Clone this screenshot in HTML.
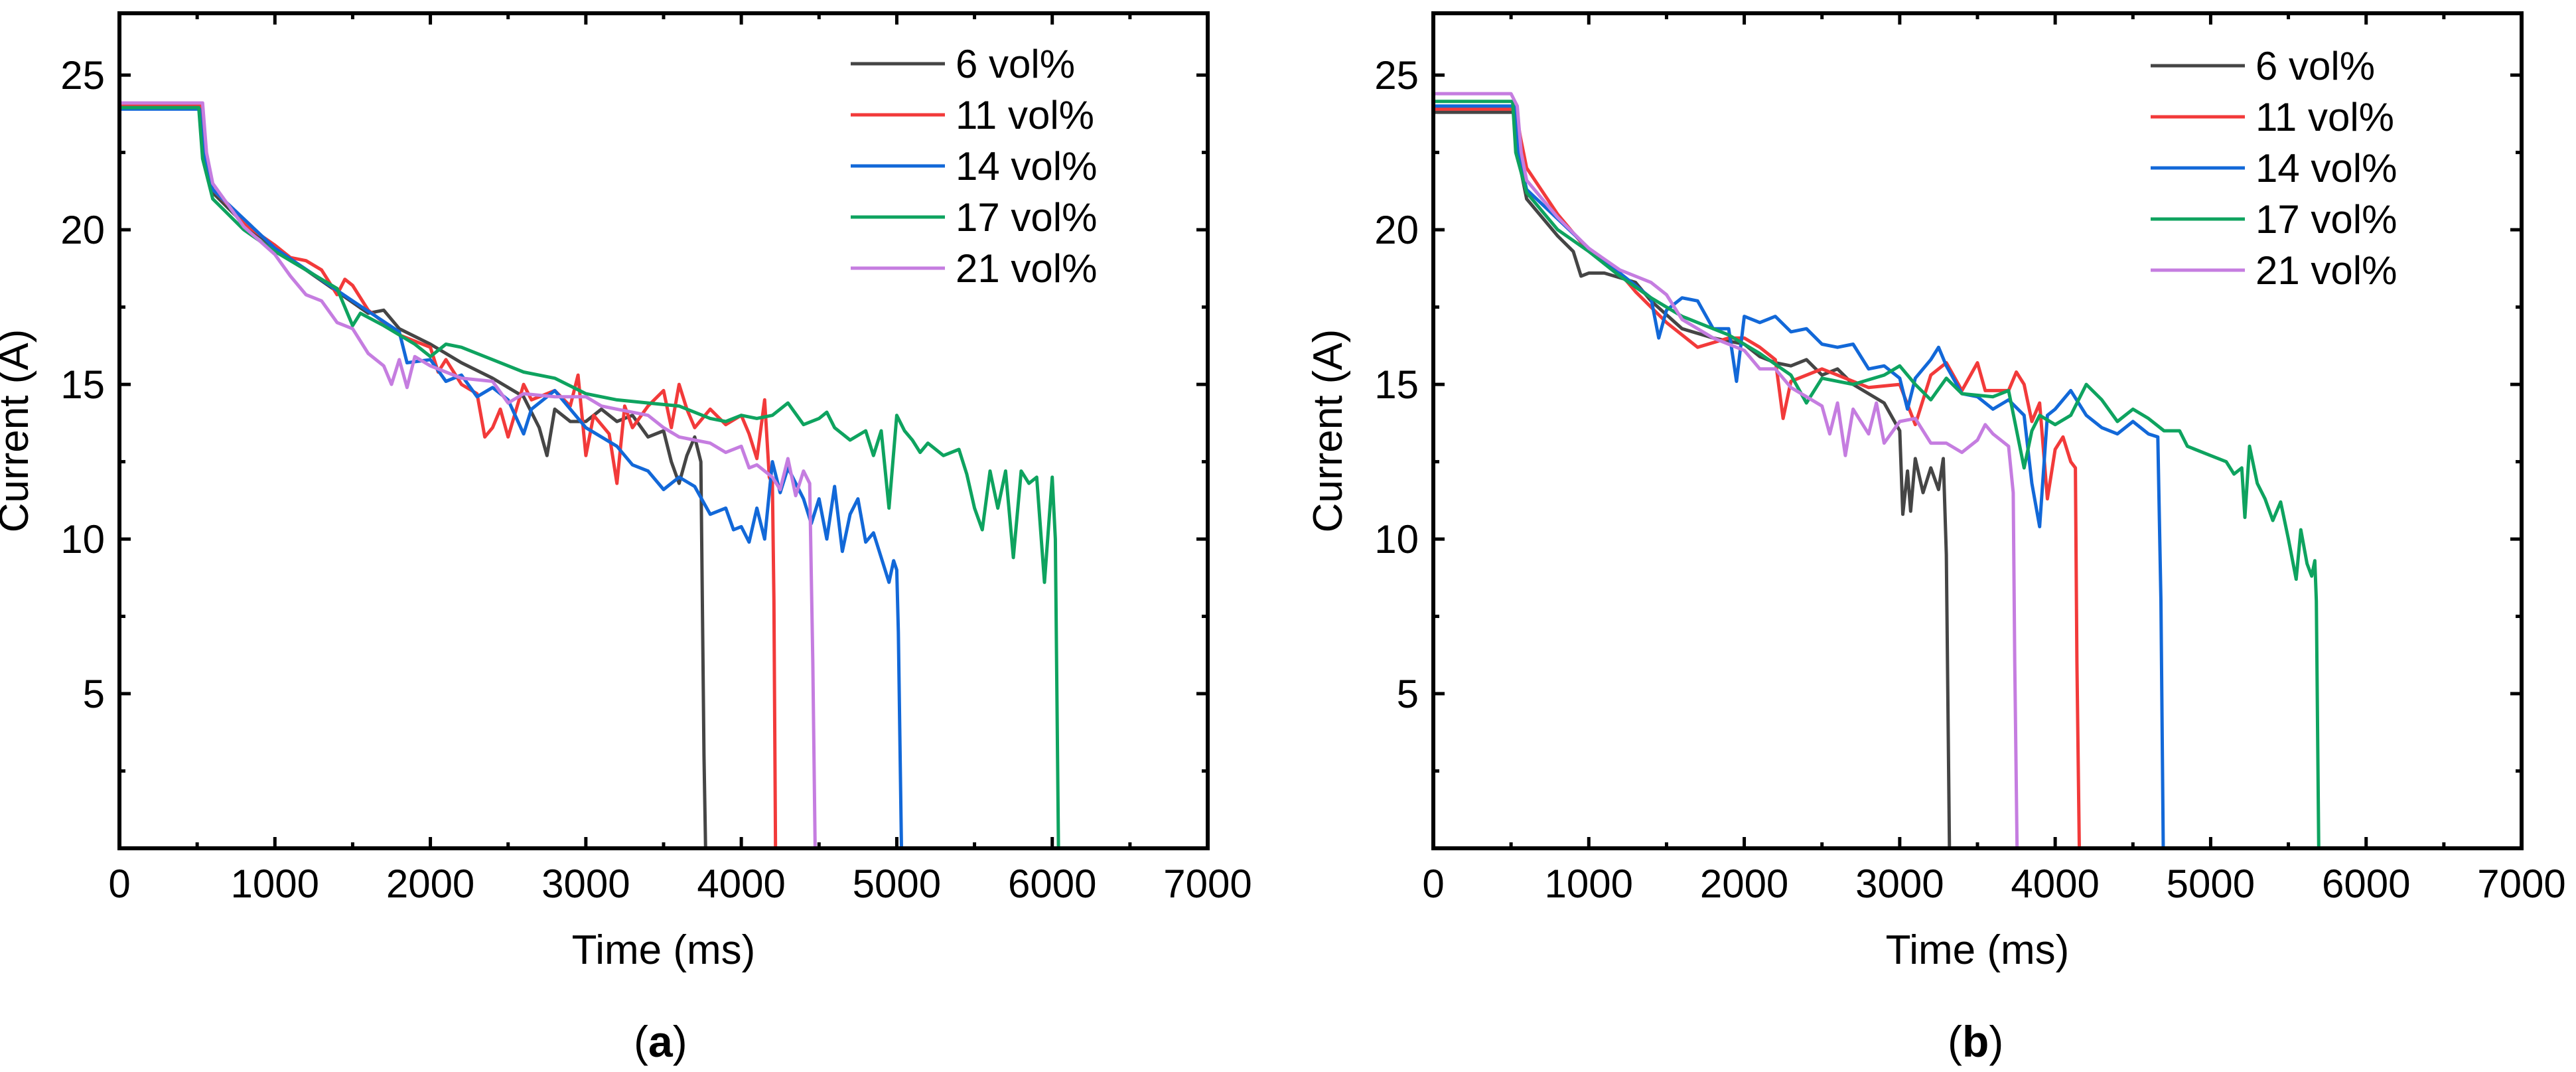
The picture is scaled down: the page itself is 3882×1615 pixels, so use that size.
<!DOCTYPE html>
<html><head><meta charset="utf-8"><style>
html,body{margin:0;padding:0;background:#fff;}
svg{display:block;}
text{font-family:"Liberation Sans",sans-serif;fill:#000;}
</style></head><body>
<svg id="fig" width="3882" height="1615" viewBox="0 0 3882 1615" xmlns="http://www.w3.org/2000/svg"></svg>
<script>
const seriesNames = ["6 vol%","11 vol%","14 vol%","17 vol%","21 vol%"];
const seriesColors = ["#454545","#f23a3a","#1268d8","#0ea35f","#c57de0"];
const xTicks = [0,1000,2000,3000,4000,5000,6000,7000];
const yTicks = [5,10,15,20,25];

const a_black = [[0,23.95],[515,23.95],[540,22.5],[600,21.2],[800,20.2],[1000,19.4],[1200,18.7],[1400,18.0],[1600,17.3],[1700,17.4],[1800,16.8],[2000,16.3],[2200,15.7],[2400,15.2],[2600,14.6],[2700,13.6],[2750,12.7],[2800,14.2],[2900,13.8],[3000,13.8],[3100,14.2],[3200,13.8],[3300,14.0],[3400,13.3],[3500,13.5],[3550,12.5],[3600,11.8],[3650,12.7],[3700,13.3],[3740,12.5],[3760,3],[3770,0]];
const a_red = [[0,24.0],[520,24.0],[545,22.5],[600,21.3],[700,20.8],[800,20.2],[1000,19.5],[1100,19.1],[1200,19.0],[1300,18.7],[1400,17.9],[1450,18.4],[1500,18.2],[1600,17.4],[1800,16.6],[2000,16.2],[2050,15.4],[2100,15.8],[2200,15.0],[2300,14.7],[2350,13.3],[2400,13.6],[2450,14.2],[2500,13.3],[2600,15.0],[2650,14.5],[2800,14.8],[2900,14.3],[2950,15.3],[3000,12.7],[3050,14.0],[3150,13.4],[3200,11.8],[3250,14.3],[3300,13.6],[3400,14.3],[3500,14.8],[3550,13.6],[3600,15.0],[3650,14.2],[3700,13.6],[3800,14.2],[3900,13.7],[4000,14.0],[4050,13.4],[4100,12.6],[4150,14.5],[4180,12.0],[4200,11.8],[4210,8],[4220,0]];
const a_blue = [[0,23.9],[515,23.9],[540,22.5],[600,21.3],[1000,19.4],[1500,17.7],[1800,16.7],[1850,15.7],[2000,15.8],[2100,15.1],[2200,15.3],[2300,14.6],[2400,14.9],[2500,14.5],[2600,13.4],[2650,14.2],[2800,14.8],[3000,13.6],[3200,13.0],[3300,12.4],[3400,12.2],[3500,11.6],[3600,12.0],[3700,11.7],[3800,10.8],[3900,11.0],[3950,10.3],[4000,10.4],[4050,9.9],[4100,11.0],[4150,10.0],[4200,12.5],[4250,11.5],[4300,12.3],[4400,11.3],[4450,10.5],[4500,11.3],[4550,10.0],[4600,11.7],[4650,9.6],[4700,10.8],[4750,11.3],[4800,9.9],[4850,10.2],[4900,9.4],[4950,8.6],[4980,9.3],[5000,9.0],[5010,7],[5030,0]];
const a_green = [[0,23.95],[510,23.95],[535,22.3],[600,21.0],[800,20.0],[1000,19.3],[1200,18.7],[1400,18.1],[1500,16.9],[1550,17.3],[1700,16.9],[1900,16.3],[2000,15.9],[2100,16.3],[2200,16.2],[2400,15.8],[2600,15.4],[2800,15.2],[3000,14.7],[3200,14.5],[3400,14.4],[3600,14.3],[3800,13.9],[3900,13.8],[4000,14.0],[4100,13.9],[4200,14.0],[4300,14.4],[4400,13.7],[4500,13.9],[4550,14.1],[4600,13.6],[4700,13.2],[4800,13.5],[4850,12.7],[4900,13.5],[4950,11.0],[5000,14.0],[5050,13.5],[5100,13.2],[5150,12.8],[5200,13.1],[5300,12.7],[5400,12.9],[5450,12.1],[5500,11.0],[5550,10.3],[5600,12.2],[5650,11.0],[5700,12.2],[5750,9.4],[5800,12.2],[5850,11.8],[5900,12.0],[5950,8.6],[6000,12.0],[6020,10],[6040,0]];
const a_purple = [[0,24.1],[535,24.1],[560,22.5],[600,21.5],[800,20.1],[1000,19.2],[1100,18.5],[1200,17.9],[1300,17.7],[1400,17.0],[1500,16.8],[1600,16.0],[1700,15.6],[1750,15.0],[1800,15.8],[1850,14.9],[1900,15.9],[2000,15.6],[2100,15.4],[2200,15.2],[2400,15.1],[2500,14.4],[2600,14.7],[2800,14.6],[3000,14.6],[3100,14.3],[3200,14.2],[3400,14.0],[3500,13.6],[3600,13.3],[3700,13.2],[3800,13.1],[3900,12.8],[4000,13.0],[4050,12.3],[4100,12.4],[4200,12.0],[4250,11.6],[4300,12.6],[4350,11.4],[4400,12.2],[4440,11.8],[4460,6],[4475,0]];

const b_black = [[0,23.8],[515,23.8],[540,22.5],[600,21.0],[800,19.8],[900,19.3],[950,18.5],[1000,18.6],[1100,18.6],[1300,18.3],[1400,17.7],[1600,16.8],[1800,16.5],[2000,16.3],[2100,15.9],[2200,15.7],[2300,15.6],[2400,15.8],[2500,15.3],[2600,15.5],[2700,15.0],[2800,14.7],[2900,14.4],[3000,13.5],[3020,10.8],[3050,12.2],[3070,10.9],[3100,12.6],[3150,11.5],[3200,12.3],[3250,11.6],[3280,12.6],[3300,9.5],[3320,0]];
const b_red = [[0,23.9],[530,23.9],[560,23.0],[600,22.0],[800,20.5],[1000,19.3],[1200,18.6],[1300,18.0],[1500,17.0],[1700,16.2],[1900,16.5],[2000,16.5],[2100,16.2],[2200,15.8],[2250,13.9],[2300,15.1],[2500,15.5],[2600,15.3],[2800,14.9],[3000,15.0],[3100,13.7],[3200,15.3],[3300,15.7],[3400,14.8],[3500,15.7],[3550,14.8],[3700,14.8],[3750,15.4],[3800,15.0],[3850,13.8],[3900,14.4],[3950,11.3],[4000,12.9],[4050,13.3],[4100,12.5],[4130,12.3],[4140,6],[4155,0]];
const b_blue = [[0,24.0],[520,24.0],[545,22.5],[600,21.3],[1000,19.4],[1200,18.6],[1400,17.8],[1450,16.5],[1500,17.4],[1600,17.8],[1700,17.7],[1800,16.8],[1900,16.8],[1950,15.1],[2000,17.2],[2100,17.0],[2200,17.2],[2300,16.7],[2400,16.8],[2500,16.3],[2600,16.2],[2700,16.3],[2800,15.5],[2900,15.6],[3000,15.2],[3050,14.2],[3100,15.2],[3200,15.8],[3250,16.2],[3300,15.6],[3400,14.7],[3500,14.6],[3600,14.2],[3700,14.5],[3800,14.0],[3850,11.8],[3900,10.4],[3950,14.0],[4000,14.2],[4100,14.8],[4200,14.0],[4300,13.6],[4400,13.4],[4500,13.8],[4600,13.4],[4660,13.3],[4680,8],[4695,0]];
const b_green = [[0,24.15],[510,24.15],[530,22.5],[600,21.2],[800,20.0],[1000,19.3],[1200,18.5],[1400,17.8],[1600,17.2],[1700,17.0],[1900,16.6],[2100,16.0],[2300,15.3],[2400,14.4],[2500,15.2],[2700,15.0],[2900,15.3],[3000,15.6],[3100,15.0],[3200,14.5],[3300,15.2],[3400,14.7],[3600,14.6],[3700,14.8],[3800,12.3],[3850,13.5],[3900,14.0],[4000,13.7],[4100,14.0],[4200,15.0],[4300,14.5],[4400,13.8],[4500,14.2],[4600,13.9],[4700,13.5],[4800,13.5],[4850,13.0],[4900,12.9],[5000,12.7],[5100,12.5],[5150,12.1],[5200,12.3],[5220,10.7],[5250,13.0],[5300,11.8],[5350,11.3],[5400,10.6],[5450,11.2],[5500,10.0],[5550,8.7],[5580,10.3],[5620,9.2],[5650,8.8],[5670,9.3],[5680,8],[5695,0]];
const b_purple = [[0,24.4],[500,24.4],[540,24.0],[565,22.5],[600,21.6],[800,20.4],[1000,19.4],[1200,18.7],[1400,18.3],[1500,17.9],[1600,17.1],[1800,16.5],[2000,16.1],[2100,15.5],[2200,15.5],[2300,14.9],[2400,14.6],[2500,14.3],[2550,13.4],[2600,14.4],[2650,12.7],[2700,14.2],[2800,13.4],[2850,14.4],[2900,13.1],[3000,13.8],[3100,13.9],[3200,13.1],[3300,13.1],[3400,12.8],[3500,13.2],[3550,13.7],[3600,13.4],[3700,13.0],[3730,11.5],[3740,6],[3755,0]];

const NS = "http://www.w3.org/2000/svg";
const svg = document.getElementById("fig");
function mk(tag, attrs, parent){const e=document.createElementNS(NS,tag);for(const k in attrs)e.setAttribute(k,attrs[k]);(parent||svg).appendChild(e);return e;}

function panel(id, x0, x1, yTop, yBot, series, legX, legY, capLetter){
  const g = mk("g",{});
  
  
  const sx = v => x0 + (v/7000)*(x1-x0);
  const sy = v => yBot - (v/27)*(yBot-yTop);
  // series
  series.forEach((s,i)=>{
    const d = s.map((p,j)=>(j?"L":"M")+sx(p[0]).toFixed(1)+","+sy(p[1]).toFixed(1)).join(" ");
    const path = mk("path",{d:d,fill:"none",stroke:seriesColors[i],"stroke-width":5,"stroke-linejoin":"round"},g);
    
    
  });
  // ticks
  const tg = mk("g",{stroke:"#000","stroke-width":5},g);
  for(let v=0; v<=7000; v+=500){
    const X=sx(v), L=(v%1000===0)?17:9;
    mk("line",{x1:X,y1:yBot,x2:X,y2:yBot-L},tg);
    mk("line",{x1:X,y1:yTop,x2:X,y2:yTop+L},tg);
  }
  for(let v=2.5; v<27; v+=2.5){
    const Y=sy(v), L=(Math.abs(v%5)<0.01)?17:9;
    mk("line",{x1:x0,y1:Y,x2:x0+L,y2:Y},tg);
    mk("line",{x1:x1,y1:Y,x2:x1-L,y2:Y},tg);
  }
  const frame = mk("rect",{x:x0,y:yTop,width:x1-x0,height:yBot-yTop,fill:"none",stroke:"#000","stroke-width":6},g);
  
  
  xTicks.forEach(v=>{
    const t = mk("text",{x:sx(v),y:yBot+74,"font-size":60,"text-anchor":"middle"},g);
    t.textContent = v;
    
    
  });
  yTicks.forEach(v=>{
    const t = mk("text",{x:x0-22,y:sy(v)+21,"font-size":60,"text-anchor":"end"},g);
    t.textContent = v;
    
    
  });
  const xt = mk("text",{x:(x0+x1)/2,y:1452,"font-size":62,"text-anchor":"middle"},g);
  xt.textContent = "Time (ms)";
  
  
  const yc = (yTop+yBot)/2, ytx = x0-138;
  const yt = mk("text",{x:ytx,y:yc,"font-size":62,"text-anchor":"middle",transform:"rotate(-90 "+ytx+" "+yc+")"},g);
  yt.textContent = "Current (A)";
  
  
  // legend
  seriesNames.forEach((n,i)=>{
    const lg = mk("g",{},g);
    
    
    const Y = legY + i*77;
    mk("line",{x1:legX,y1:Y,x2:legX+142,y2:Y,stroke:seriesColors[i],"stroke-width":5},lg);
    const t = mk("text",{x:legX+158,y:Y+21,"font-size":60},lg);
    t.textContent = n;
  });
  const cap = mk("text",{x:(x0+x1)/2-45,y:1592,"font-size":66,"font-family":"Liberation Serif, serif"},g);
  
  
  const p1 = mk("tspan",{},cap); p1.textContent="(";
  const p2 = mk("tspan",{"font-weight":"bold"},cap); p2.textContent=capLetter;
  const p3 = mk("tspan",{},cap); p3.textContent=")";
}
panel("a",180,1820,20,1278,[a_black,a_red,a_blue,a_green,a_purple],1282,96,"a");
panel("b",2160,3800,20,1278,[b_black,b_red,b_blue,b_green,b_purple],3241,99,"b");
</script>
</body></html>
